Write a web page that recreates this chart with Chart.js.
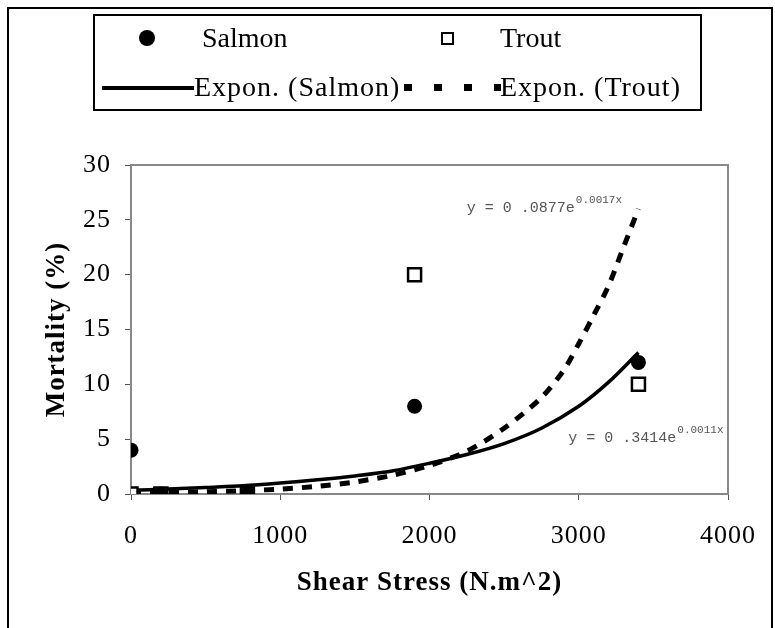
<!DOCTYPE html>
<html>
<head>
<meta charset="utf-8">
<script src="https://cdn.jsdelivr.net/npm/chart.js@4.4.1/dist/chart.umd.min.js"></script>
<style>
    html, body { margin: 0; padding: 0; background: #fff; overflow: hidden; }
    #wrap { position: relative; width: 775px; height: 628px; }
    #frame { position: absolute; left: 7px; top: 7px; width: 766px; height: 660px; border: 2px solid #000; box-sizing: border-box; pointer-events: none; }
    #legend { position: absolute; left: 93px; top: 14px; width: 609px; height: 97px; border: 2px solid #000; box-sizing: border-box; font-family: "Liberation Serif", "Times New Roman", serif; font-size: 28px; color: #000; }
    #legend .txt { position: absolute; line-height: 32px; white-space: nowrap; }
    #legend .wide { letter-spacing: 1px; }
    #legend .dot { position: absolute; width: 16px; height: 16px; border-radius: 50%; background: #000; }
    #legend .sq { position: absolute; width: 13px; height: 13px; border: 2.5px solid #000; box-sizing: border-box; background: #fff; }
    #legend .solid { position: absolute; height: 4px; background: #000; }
    #legend .dash { position: absolute; height: 7px; background: repeating-linear-gradient(to right, #000 0, #000 8px, transparent 8px, transparent 30px); }
</style>
</head>
<body>
<div id="wrap">
    <canvas id="chart" width="775" height="628"></canvas>
    <div id="frame"></div>
    <div id="legend">
        <span class="dot" style="left:44px; top:14px;"></span>
        <span class="txt" style="left:107px; top:6px;">Salmon</span>
        <span class="sq" style="left:346px; top:16px;"></span>
        <span class="txt" style="left:405px; top:6px;">Trout</span>
        <span class="solid" style="left:7px; top:70px; width:92px;"></span>
        <span class="txt wide" style="left:99px; top:55px;">Expon. (Salmon)</span>
        <span class="dash" style="left:309px; top:68px; width:97px;"></span>
        <span class="txt wide" style="left:405px; top:55px;">Expon. (Trout)</span>
    </div>
</div>
<script>
// measured points
const salmonX = [0, 200, 780, 1900, 3400];
const salmonY = [4, 0, 0, 8, 12];
const troutX = [0, 200, 780, 1900, 3400];
const troutY = [0, 0, 0, 20, 10];

// trendlines
const salmonFitX = [0, 250, 500, 750, 1000, 1250, 1500, 1750, 2000, 2250, 2500, 2750, 3000, 3200, 3400];
const salmonFitY = [0.35, 0.45, 0.6, 0.75, 1.0, 1.3, 1.65, 2.1, 2.8, 3.6, 4.6, 6.0, 8.0, 10.2, 12.9];
const troutFitX = [0, 250, 500, 750, 1000, 1250, 1500, 1750, 2000, 2250, 2500, 2750, 2900, 3000, 3100, 3200, 3300, 3400];
const troutFitY = [0.1, 0.15, 0.2, 0.3, 0.45, 0.7, 1.1, 1.7, 2.6, 3.9, 6.0, 8.8, 11.3, 13.7, 16.3, 19.0, 22.5, 26.0];

const xTicks = [0, 1000, 2000, 3000, 4000];
const yTicks = [0, 5, 10, 15, 20, 25, 30];

const equations = [
    { x: 2250, y: 25.7, base: 'y = 0 .0877e', exp: '0.0017x' },
    { x: 2930, y: 4.7, base: 'y = 0 .3414e', exp: '0.0011x' }
];

const toXY = (xs, ys) => xs.map((x, i) => ({ x: x, y: ys[i] }));

const serif = '"Liberation Serif", "Times New Roman", serif';

const frameAndLabels = {
    id: 'frameAndLabels',
    beforeDraw(chart) {
        chart.ctx.letterSpacing = '1px';
    },
    beforeDatasetsDraw(chart) {
        const { ctx, chartArea: a } = chart;
        ctx.save();
        ctx.strokeStyle = '#888';
        ctx.lineWidth = 2;
        ctx.strokeRect(a.left, a.top, a.right - a.left, a.bottom - a.top);
        ctx.restore();
    },
    afterDatasetsDraw(chart) {
        const { ctx, scales } = chart;
        ctx.save();
        ctx.letterSpacing = '0px';
        ctx.fillStyle = '#555';
        ctx.textBaseline = 'alphabetic';
        ctx.textAlign = 'left';
        equations.forEach(eq => {
            const px = scales.x.getPixelForValue(eq.x);
            const py = scales.y.getPixelForValue(eq.y);
            ctx.font = '15px "Liberation Mono", "Courier New", monospace';
            ctx.fillText(eq.base, px, py);
            const w = ctx.measureText(eq.base).width;
            ctx.font = '11px "Liberation Mono", "Courier New", monospace';
            ctx.fillText(eq.exp, px + w + 1, py - 9);
        });
        ctx.restore();
    },
    afterDraw(chart) {
        chart.ctx.letterSpacing = '0px';
    }
};

new Chart(document.getElementById('chart').getContext('2d'), {
    type: 'scatter',
    data: {
        datasets: [
            {
                label: 'Salmon',
                data: toXY(salmonX, salmonY),
                pointStyle: 'circle',
                pointRadius: 7.5,
                backgroundColor: '#000',
                borderColor: '#000',
                borderWidth: 0,
                order: 0
            },
            {
                label: 'Trout',
                data: toXY(troutX, troutY),
                pointStyle: 'rect',
                pointRadius: 9.2,
                backgroundColor: '#fff',
                borderColor: '#000',
                borderWidth: 2.5,
                order: 1
            },
            {
                label: 'Expon. (Salmon)',
                data: toXY(salmonFitX, salmonFitY),
                showLine: true,
                pointRadius: 0,
                borderColor: '#000',
                borderWidth: 3.5,
                tension: 0.3,
                order: 3
            },
            {
                label: 'Expon. (Trout)',
                data: toXY(troutFitX, troutFitY),
                showLine: true,
                pointRadius: 0,
                borderColor: '#000',
                borderWidth: 5,
                borderDash: [10, 9],
                tension: 0.3,
                order: 2
            }
        ]
    },
    options: {
        responsive: false,
        animation: false,
        layout: { padding: { left: 41, right: 42, top: 165, bottom: 29 } },
        scales: {
            x: {
                type: 'linear',
                min: 0,
                max: 4000,
                afterFit: s => { s.height = 105; },
                afterBuildTicks: s => { s.ticks = xTicks.map(v => ({ value: v })); },
                ticks: { color: '#000', font: { family: serif, size: 26 }, padding: 21, maxRotation: 0, callback: v => String(v) },
                grid: { drawOnChartArea: false, drawTicks: true, tickLength: 6, color: '#555' },
                border: { color: '#888', width: 2 },
                title: { display: true, text: 'Shear Stress (N.m^2)', color: '#000', font: { family: serif, size: 27, weight: 'bold' }, padding: 0 }
            },
            y: {
                min: 0,
                max: 30,
                afterFit: s => { s.width = 90; },
                afterBuildTicks: s => { s.ticks = yTicks.map(v => ({ value: v })); },
                ticks: { color: '#000', font: { family: serif, size: 26 }, padding: 14, callback: v => String(v) },
                grid: { drawOnChartArea: false, drawTicks: true, tickLength: 6, color: '#555' },
                border: { color: '#888', width: 2 },
                title: { display: true, text: 'Mortality (%)', color: '#000', font: { family: serif, size: 27, weight: 'bold' }, padding: 0 }
            }
        },
        plugins: {
            legend: { display: false },
            tooltip: { enabled: false }
        }
    },
    plugins: [frameAndLabels]
});
</script>
</body>
</html>
